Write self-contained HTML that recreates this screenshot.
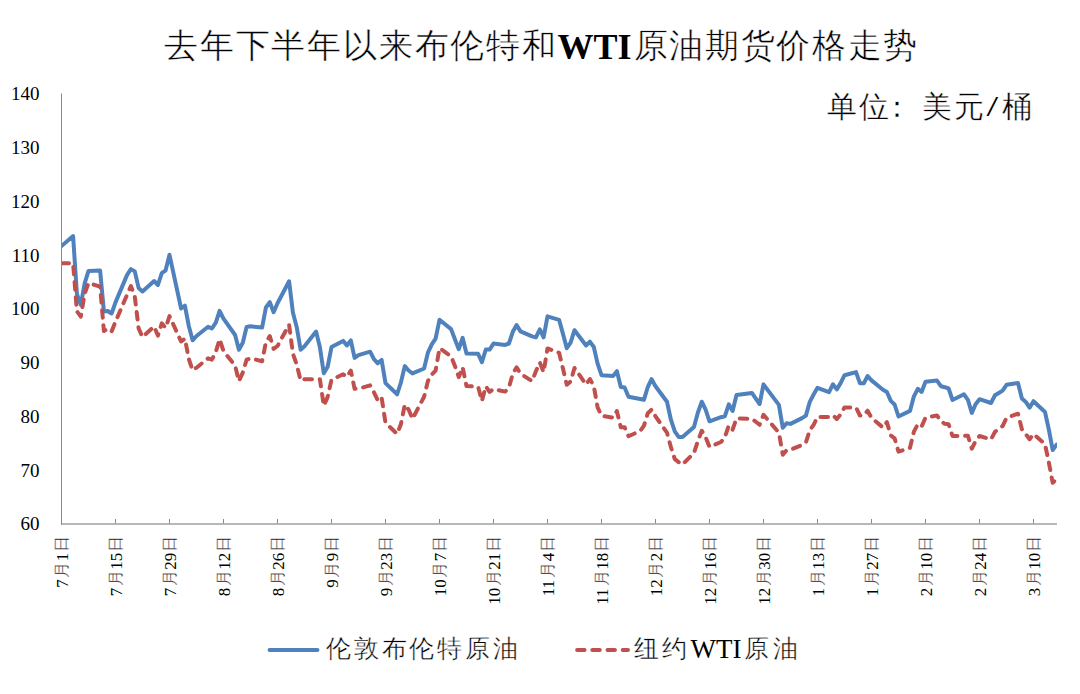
<!DOCTYPE html>
<html><head><meta charset="utf-8"><style>
html,body{margin:0;padding:0;background:#fff;width:1080px;height:694px;overflow:hidden}
svg{display:block}
text{font-family:"Liberation Serif", serif;fill:#000}
</style></head><body>
<svg width="1080" height="694" viewBox="0 0 1080 694">
<rect width="1080" height="694" fill="#fff"/>
<text x="164.0 199.8 235.6 271.4 307.2 343.0 378.8 414.6 450.4 486.2 522.0" y="56.5" font-size="34" stroke="#fff" stroke-width="0.5">去年下半年以来布伦特和</text><text x="557.6" y="58.9" font-size="36" font-weight="bold">WTI</text><text x="633.5 669.2 704.9 740.6 776.3 812.0 847.7 883.4" y="56.5" font-size="34" stroke="#fff" stroke-width="0.5">原油期货价格走势</text><text x="827.0 859.0" y="116.5" font-size="30" stroke="#fff" stroke-width="0.4">单位</text><text x="882.0" y="116.5" font-size="30" stroke="#fff" stroke-width="0.4">：</text><text x="922.0 954.0" y="116.5" font-size="30" stroke="#fff" stroke-width="0.4">美元</text><text x="986.5" y="116.5" font-size="30" transform="translate(986.5 0) scale(1.4 1) translate(-986.5 0)">/</text><text x="1002.0" y="116.5" font-size="30" stroke="#fff" stroke-width="0.4">桶</text><text x="326.0 353.8 381.5 409.3 437.1 464.9 492.6" y="657.0" font-size="24.5" stroke="#fff" stroke-width="0.4">伦敦布伦特原油</text><text x="633.5 661.8" y="657.0" font-size="24.5" stroke="#fff" stroke-width="0.4">纽约</text><text x="690.5" y="658.3" font-size="27">WTI</text><text x="743.5 772.5" y="657.0" font-size="24.5" stroke="#fff" stroke-width="0.4">原油</text>
<text x="39.5" y="530.3" text-anchor="end" font-size="19">60</text><text x="39.5" y="476.5" text-anchor="end" font-size="19">70</text><text x="39.5" y="422.8" text-anchor="end" font-size="19">80</text><text x="39.5" y="369.0" text-anchor="end" font-size="19">90</text><text x="39.5" y="315.2" text-anchor="end" font-size="19">100</text><text x="39.5" y="261.5" text-anchor="end" font-size="19">110</text><text x="39.5" y="207.7" text-anchor="end" font-size="19">120</text><text x="39.5" y="154.0" text-anchor="end" font-size="19">130</text><text x="39.5" y="100.2" text-anchor="end" font-size="19">140</text>
<g transform="translate(67.7 620) rotate(-90)"><text x="75.7" y="-0.8" font-size="16" text-anchor="middle" stroke="#fff" stroke-width="0.35">日</text><text x="58.7" y="0" font-size="17">1</text><text x="50.2" y="-0.8" font-size="16" text-anchor="middle" stroke="#fff" stroke-width="0.35">月</text><text x="32.2" y="0" font-size="17">7</text></g><g transform="translate(121.7 620) rotate(-90)"><text x="75.7" y="-0.8" font-size="16" text-anchor="middle" stroke="#fff" stroke-width="0.35">日</text><text x="50.2" y="0" font-size="17">15</text><text x="41.7" y="-0.8" font-size="16" text-anchor="middle" stroke="#fff" stroke-width="0.35">月</text><text x="23.7" y="0" font-size="17">7</text></g><g transform="translate(175.7 620) rotate(-90)"><text x="75.7" y="-0.8" font-size="16" text-anchor="middle" stroke="#fff" stroke-width="0.35">日</text><text x="50.2" y="0" font-size="17">29</text><text x="41.7" y="-0.8" font-size="16" text-anchor="middle" stroke="#fff" stroke-width="0.35">月</text><text x="23.7" y="0" font-size="17">7</text></g><g transform="translate(229.7 620) rotate(-90)"><text x="75.7" y="-0.8" font-size="16" text-anchor="middle" stroke="#fff" stroke-width="0.35">日</text><text x="50.2" y="0" font-size="17">12</text><text x="41.7" y="-0.8" font-size="16" text-anchor="middle" stroke="#fff" stroke-width="0.35">月</text><text x="23.7" y="0" font-size="17">8</text></g><g transform="translate(283.7 620) rotate(-90)"><text x="75.7" y="-0.8" font-size="16" text-anchor="middle" stroke="#fff" stroke-width="0.35">日</text><text x="50.2" y="0" font-size="17">26</text><text x="41.7" y="-0.8" font-size="16" text-anchor="middle" stroke="#fff" stroke-width="0.35">月</text><text x="23.7" y="0" font-size="17">8</text></g><g transform="translate(337.7 620) rotate(-90)"><text x="75.7" y="-0.8" font-size="16" text-anchor="middle" stroke="#fff" stroke-width="0.35">日</text><text x="58.7" y="0" font-size="17">9</text><text x="50.2" y="-0.8" font-size="16" text-anchor="middle" stroke="#fff" stroke-width="0.35">月</text><text x="32.2" y="0" font-size="17">9</text></g><g transform="translate(391.7 620) rotate(-90)"><text x="75.7" y="-0.8" font-size="16" text-anchor="middle" stroke="#fff" stroke-width="0.35">日</text><text x="50.2" y="0" font-size="17">23</text><text x="41.7" y="-0.8" font-size="16" text-anchor="middle" stroke="#fff" stroke-width="0.35">月</text><text x="23.7" y="0" font-size="17">9</text></g><g transform="translate(445.7 620) rotate(-90)"><text x="75.7" y="-0.8" font-size="16" text-anchor="middle" stroke="#fff" stroke-width="0.35">日</text><text x="58.7" y="0" font-size="17">7</text><text x="50.2" y="-0.8" font-size="16" text-anchor="middle" stroke="#fff" stroke-width="0.35">月</text><text x="23.7" y="0" font-size="17">10</text></g><g transform="translate(499.7 620) rotate(-90)"><text x="75.7" y="-0.8" font-size="16" text-anchor="middle" stroke="#fff" stroke-width="0.35">日</text><text x="50.2" y="0" font-size="17">21</text><text x="41.7" y="-0.8" font-size="16" text-anchor="middle" stroke="#fff" stroke-width="0.35">月</text><text x="15.2" y="0" font-size="17">10</text></g><g transform="translate(553.7 620) rotate(-90)"><text x="75.7" y="-0.8" font-size="16" text-anchor="middle" stroke="#fff" stroke-width="0.35">日</text><text x="58.7" y="0" font-size="17">4</text><text x="50.2" y="-0.8" font-size="16" text-anchor="middle" stroke="#fff" stroke-width="0.35">月</text><text x="23.7" y="0" font-size="17">11</text></g><g transform="translate(607.7 620) rotate(-90)"><text x="75.7" y="-0.8" font-size="16" text-anchor="middle" stroke="#fff" stroke-width="0.35">日</text><text x="50.2" y="0" font-size="17">18</text><text x="41.7" y="-0.8" font-size="16" text-anchor="middle" stroke="#fff" stroke-width="0.35">月</text><text x="15.2" y="0" font-size="17">11</text></g><g transform="translate(661.7 620) rotate(-90)"><text x="75.7" y="-0.8" font-size="16" text-anchor="middle" stroke="#fff" stroke-width="0.35">日</text><text x="58.7" y="0" font-size="17">2</text><text x="50.2" y="-0.8" font-size="16" text-anchor="middle" stroke="#fff" stroke-width="0.35">月</text><text x="23.7" y="0" font-size="17">12</text></g><g transform="translate(715.7 620) rotate(-90)"><text x="75.7" y="-0.8" font-size="16" text-anchor="middle" stroke="#fff" stroke-width="0.35">日</text><text x="50.2" y="0" font-size="17">16</text><text x="41.7" y="-0.8" font-size="16" text-anchor="middle" stroke="#fff" stroke-width="0.35">月</text><text x="15.2" y="0" font-size="17">12</text></g><g transform="translate(769.7 620) rotate(-90)"><text x="75.7" y="-0.8" font-size="16" text-anchor="middle" stroke="#fff" stroke-width="0.35">日</text><text x="50.2" y="0" font-size="17">30</text><text x="41.7" y="-0.8" font-size="16" text-anchor="middle" stroke="#fff" stroke-width="0.35">月</text><text x="15.2" y="0" font-size="17">12</text></g><g transform="translate(823.7 620) rotate(-90)"><text x="75.7" y="-0.8" font-size="16" text-anchor="middle" stroke="#fff" stroke-width="0.35">日</text><text x="50.2" y="0" font-size="17">13</text><text x="41.7" y="-0.8" font-size="16" text-anchor="middle" stroke="#fff" stroke-width="0.35">月</text><text x="23.7" y="0" font-size="17">1</text></g><g transform="translate(877.7 620) rotate(-90)"><text x="75.7" y="-0.8" font-size="16" text-anchor="middle" stroke="#fff" stroke-width="0.35">日</text><text x="50.2" y="0" font-size="17">27</text><text x="41.7" y="-0.8" font-size="16" text-anchor="middle" stroke="#fff" stroke-width="0.35">月</text><text x="23.7" y="0" font-size="17">1</text></g><g transform="translate(931.7 620) rotate(-90)"><text x="75.7" y="-0.8" font-size="16" text-anchor="middle" stroke="#fff" stroke-width="0.35">日</text><text x="50.2" y="0" font-size="17">10</text><text x="41.7" y="-0.8" font-size="16" text-anchor="middle" stroke="#fff" stroke-width="0.35">月</text><text x="23.7" y="0" font-size="17">2</text></g><g transform="translate(985.7 620) rotate(-90)"><text x="75.7" y="-0.8" font-size="16" text-anchor="middle" stroke="#fff" stroke-width="0.35">日</text><text x="50.2" y="0" font-size="17">24</text><text x="41.7" y="-0.8" font-size="16" text-anchor="middle" stroke="#fff" stroke-width="0.35">月</text><text x="23.7" y="0" font-size="17">2</text></g><g transform="translate(1039.7 620) rotate(-90)"><text x="75.7" y="-0.8" font-size="16" text-anchor="middle" stroke="#fff" stroke-width="0.35">日</text><text x="50.2" y="0" font-size="17">10</text><text x="41.7" y="-0.8" font-size="16" text-anchor="middle" stroke="#fff" stroke-width="0.35">月</text><text x="23.7" y="0" font-size="17">3</text></g>
<clipPath id="pa"><rect x="61.5" y="60" width="995.5" height="463.5"/></clipPath>
<g clip-path="url(#pa)">
<polyline points="61.5,246.1 73.1,236.1 76.9,293.8 80.8,304.9 84.6,283.6 88.5,270.9 100.1,270.5 103.9,311.4 107.8,311.0 111.6,313.5 115.5,302.4 127.1,274.9 130.9,269.1 134.8,271.4 138.6,287.9 142.5,291.4 154.1,281.0 157.9,285.0 161.8,273.1 165.6,270.3 169.5,254.8 181.1,308.5 184.9,305.7 188.8,326.0 192.6,340.3 196.5,336.0 208.1,326.7 211.9,328.5 215.8,322.6 219.6,310.8 223.5,318.6 235.1,335.0 238.9,349.8 242.8,342.8 246.6,327.0 250.5,326.3 262.1,327.6 265.9,307.5 269.8,302.1 273.6,312.2 277.5,303.3 289.1,281.3 292.9,312.4 296.8,327.5 300.6,349.7 304.5,346.2 316.1,331.6 319.9,347.2 323.8,373.2 327.6,367.0 331.5,347.1 343.1,340.9 346.9,345.4 350.8,340.4 354.6,357.9 358.5,355.2 370.1,351.7 373.9,359.1 377.8,363.3 381.6,359.9 385.5,383.1 397.1,394.3 400.9,382.5 404.8,366.1 408.6,370.5 412.5,373.4 424.1,368.5 427.9,352.7 431.8,344.3 435.6,338.6 439.5,319.8 451.1,329.1 454.9,339.3 458.8,349.2 462.6,337.8 466.5,353.6 478.1,353.7 481.9,362.2 485.8,349.5 489.6,349.6 493.5,343.6 505.1,344.9 508.9,343.5 512.8,331.8 516.6,325.0 520.5,331.4 532.1,336.4 535.9,337.4 539.8,329.3 543.6,337.3 547.5,316.3 559.1,319.8 562.9,333.6 566.8,348.2 570.6,342.7 574.5,330.2 586.1,345.5 589.9,341.7 593.8,347.0 597.6,363.6 601.5,375.2 613.1,376.1 616.9,371.2 620.8,387.1 624.6,387.5 628.5,396.7 640.1,399.0 643.9,399.9 647.8,387.0 651.6,379.2 655.5,386.2 667.0,401.8 670.9,419.7 674.8,431.4 678.6,436.9 682.5,437.1 694.0,427.0 697.9,412.5 701.8,401.7 705.6,409.7 709.5,421.3 721.0,417.2 724.9,416.2 728.8,404.3 732.6,410.9 736.5,395.1 751.9,392.9 755.8,398.6 759.6,404.0 763.5,384.4 778.9,404.9 782.8,427.8 786.6,423.2 790.5,423.9 802.0,418.1 805.9,415.6 809.8,401.8 813.6,394.5 817.5,387.8 829.0,392.2 832.9,384.3 836.8,389.4 840.6,383.1 844.5,375.2 856.0,372.1 859.9,383.2 863.8,383.3 867.6,376.0 871.5,380.4 883.0,389.8 886.9,392.0 890.8,400.9 894.6,404.5 898.5,416.5 910.0,410.9 913.9,396.3 917.8,388.8 921.6,392.0 925.5,381.8 937.0,380.6 940.9,386.2 944.8,387.2 948.6,388.5 952.5,400.0 964.0,394.3 967.9,399.8 971.8,412.9 975.6,404.3 979.5,399.2 991.0,403.0 994.9,395.3 998.8,393.0 1002.6,390.6 1006.5,384.8 1018.0,382.9 1021.9,398.5 1025.8,401.9 1029.6,407.6 1033.5,401.2 1045.0,412.0 1048.9,429.9 1052.7,450.1 1056.6,444.7" fill="none" stroke="#4F81BD" stroke-width="4" stroke-linecap="round" stroke-linejoin="round"/>
<polyline points="61.5,263.3 73.1,263.3 76.9,311.3 80.8,316.6 84.6,294.0 88.5,282.9 100.1,286.7 103.9,331.0 107.8,328.5 111.6,331.3 115.5,321.6 127.1,294.7 130.9,286.0 134.8,296.5 138.6,328.3 142.5,337.1 154.1,326.4 157.9,335.6 161.8,323.4 165.6,327.9 169.5,316.1 181.1,341.5 184.9,338.6 188.8,358.9 192.6,370.3 196.5,367.7 208.1,358.3 211.9,359.7 215.8,352.0 219.6,339.1 223.5,351.2 235.1,365.6 238.9,381.1 242.8,372.6 246.6,359.7 250.5,358.3 262.1,361.2 265.9,342.3 269.8,336.1 273.6,348.9 277.5,346.0 289.1,324.7 292.9,353.6 296.8,364.8 300.6,380.6 304.5,379.2 316.1,379.2 319.9,379.2 323.8,405.7 327.6,397.1 331.5,379.7 343.1,374.3 346.9,376.9 350.8,370.6 354.6,388.8 358.5,388.7 370.1,385.4 373.9,392.2 377.8,400.4 381.6,397.4 385.5,422.9 397.1,433.9 400.9,424.2 404.8,404.6 408.6,409.6 412.5,418.9 424.1,396.7 427.9,381.1 431.8,374.5 435.6,370.7 439.5,348.2 451.1,356.3 454.9,365.9 458.8,377.1 462.6,367.2 466.5,386.0 478.1,386.8 481.9,401.0 485.8,386.3 489.6,391.9 493.5,389.0 505.1,391.6 508.9,387.6 512.8,373.6 516.6,367.4 520.5,373.7 532.1,381.1 535.9,371.2 539.8,362.4 543.6,372.2 547.5,348.4 559.1,352.8 562.9,368.3 566.8,384.8 570.6,381.4 574.5,368.0 586.1,384.6 589.9,379.0 593.8,386.1 597.6,407.4 601.5,415.7 613.1,417.6 616.9,411.1 620.8,427.2 624.6,427.2 628.5,436.2 640.1,431.0 643.9,425.9 647.8,413.2 651.6,409.6 655.5,416.3 667.0,432.7 670.9,447.1 674.8,459.1 678.6,462.1 682.5,464.5 694.0,452.9 697.9,441.0 701.8,430.8 705.6,437.1 709.5,446.9 721.0,442.0 724.9,437.2 728.8,425.4 732.6,429.7 736.5,418.5 751.9,418.7 755.8,421.8 759.6,424.8 763.5,414.8 778.9,432.7 782.8,454.7 786.6,450.2 790.5,449.7 802.0,445.0 805.9,442.4 809.8,430.1 813.6,424.8 817.5,416.9 829.0,416.9 832.9,415.2 836.8,419.0 840.6,414.4 844.5,407.4 856.0,407.5 859.9,415.5 863.8,415.4 867.6,410.7 871.5,417.9 883.0,427.5 886.9,422.2 890.8,435.5 894.6,438.3 898.5,451.7 910.0,447.8 913.9,431.6 917.8,424.4 921.6,426.6 925.5,417.7 937.0,415.4 940.9,421.2 944.8,423.8 948.6,424.3 952.5,435.9 964.0,435.9 967.9,435.7 971.8,448.7 975.6,441.0 979.5,436.0 991.0,439.4 994.9,432.0 998.8,428.6 1002.6,426.1 1006.5,417.9 1018.0,413.7 1021.9,429.2 1025.8,434.1 1029.6,439.2 1033.5,434.0 1045.0,444.1 1048.9,462.8 1052.7,482.8 1056.6,478.8" fill="none" stroke="#C0504D" stroke-width="4" stroke-dasharray="7.5 7.7" stroke-linecap="round" stroke-linejoin="round"/>
</g>
<line x1="61.5" y1="93.5" x2="61.5" y2="524.5" stroke="#8a8a8a" stroke-width="1"/><line x1="61" y1="524" x2="1057" y2="524" stroke="#707070" stroke-width="1"/><line x1="115.5" y1="519" x2="115.5" y2="523.5" stroke="#8a8a8a" stroke-width="1"/><line x1="169.5" y1="519" x2="169.5" y2="523.5" stroke="#8a8a8a" stroke-width="1"/><line x1="223.5" y1="519" x2="223.5" y2="523.5" stroke="#8a8a8a" stroke-width="1"/><line x1="277.5" y1="519" x2="277.5" y2="523.5" stroke="#8a8a8a" stroke-width="1"/><line x1="331.5" y1="519" x2="331.5" y2="523.5" stroke="#8a8a8a" stroke-width="1"/><line x1="385.5" y1="519" x2="385.5" y2="523.5" stroke="#8a8a8a" stroke-width="1"/><line x1="439.5" y1="519" x2="439.5" y2="523.5" stroke="#8a8a8a" stroke-width="1"/><line x1="493.5" y1="519" x2="493.5" y2="523.5" stroke="#8a8a8a" stroke-width="1"/><line x1="547.5" y1="519" x2="547.5" y2="523.5" stroke="#8a8a8a" stroke-width="1"/><line x1="601.5" y1="519" x2="601.5" y2="523.5" stroke="#8a8a8a" stroke-width="1"/><line x1="655.5" y1="519" x2="655.5" y2="523.5" stroke="#8a8a8a" stroke-width="1"/><line x1="709.5" y1="519" x2="709.5" y2="523.5" stroke="#8a8a8a" stroke-width="1"/><line x1="763.5" y1="519" x2="763.5" y2="523.5" stroke="#8a8a8a" stroke-width="1"/><line x1="817.5" y1="519" x2="817.5" y2="523.5" stroke="#8a8a8a" stroke-width="1"/><line x1="871.5" y1="519" x2="871.5" y2="523.5" stroke="#8a8a8a" stroke-width="1"/><line x1="925.5" y1="519" x2="925.5" y2="523.5" stroke="#8a8a8a" stroke-width="1"/><line x1="979.5" y1="519" x2="979.5" y2="523.5" stroke="#8a8a8a" stroke-width="1"/><line x1="1033.5" y1="519" x2="1033.5" y2="523.5" stroke="#8a8a8a" stroke-width="1"/>
<line x1="269.5" y1="650" x2="317.5" y2="650" stroke="#4F81BD" stroke-width="3.9" stroke-linecap="round"/>
<line x1="577.1" y1="650" x2="628" y2="650" stroke="#C0504D" stroke-width="3.9" stroke-dasharray="7.5 7.7" stroke-linecap="round"/>
</svg>
</body></html>
